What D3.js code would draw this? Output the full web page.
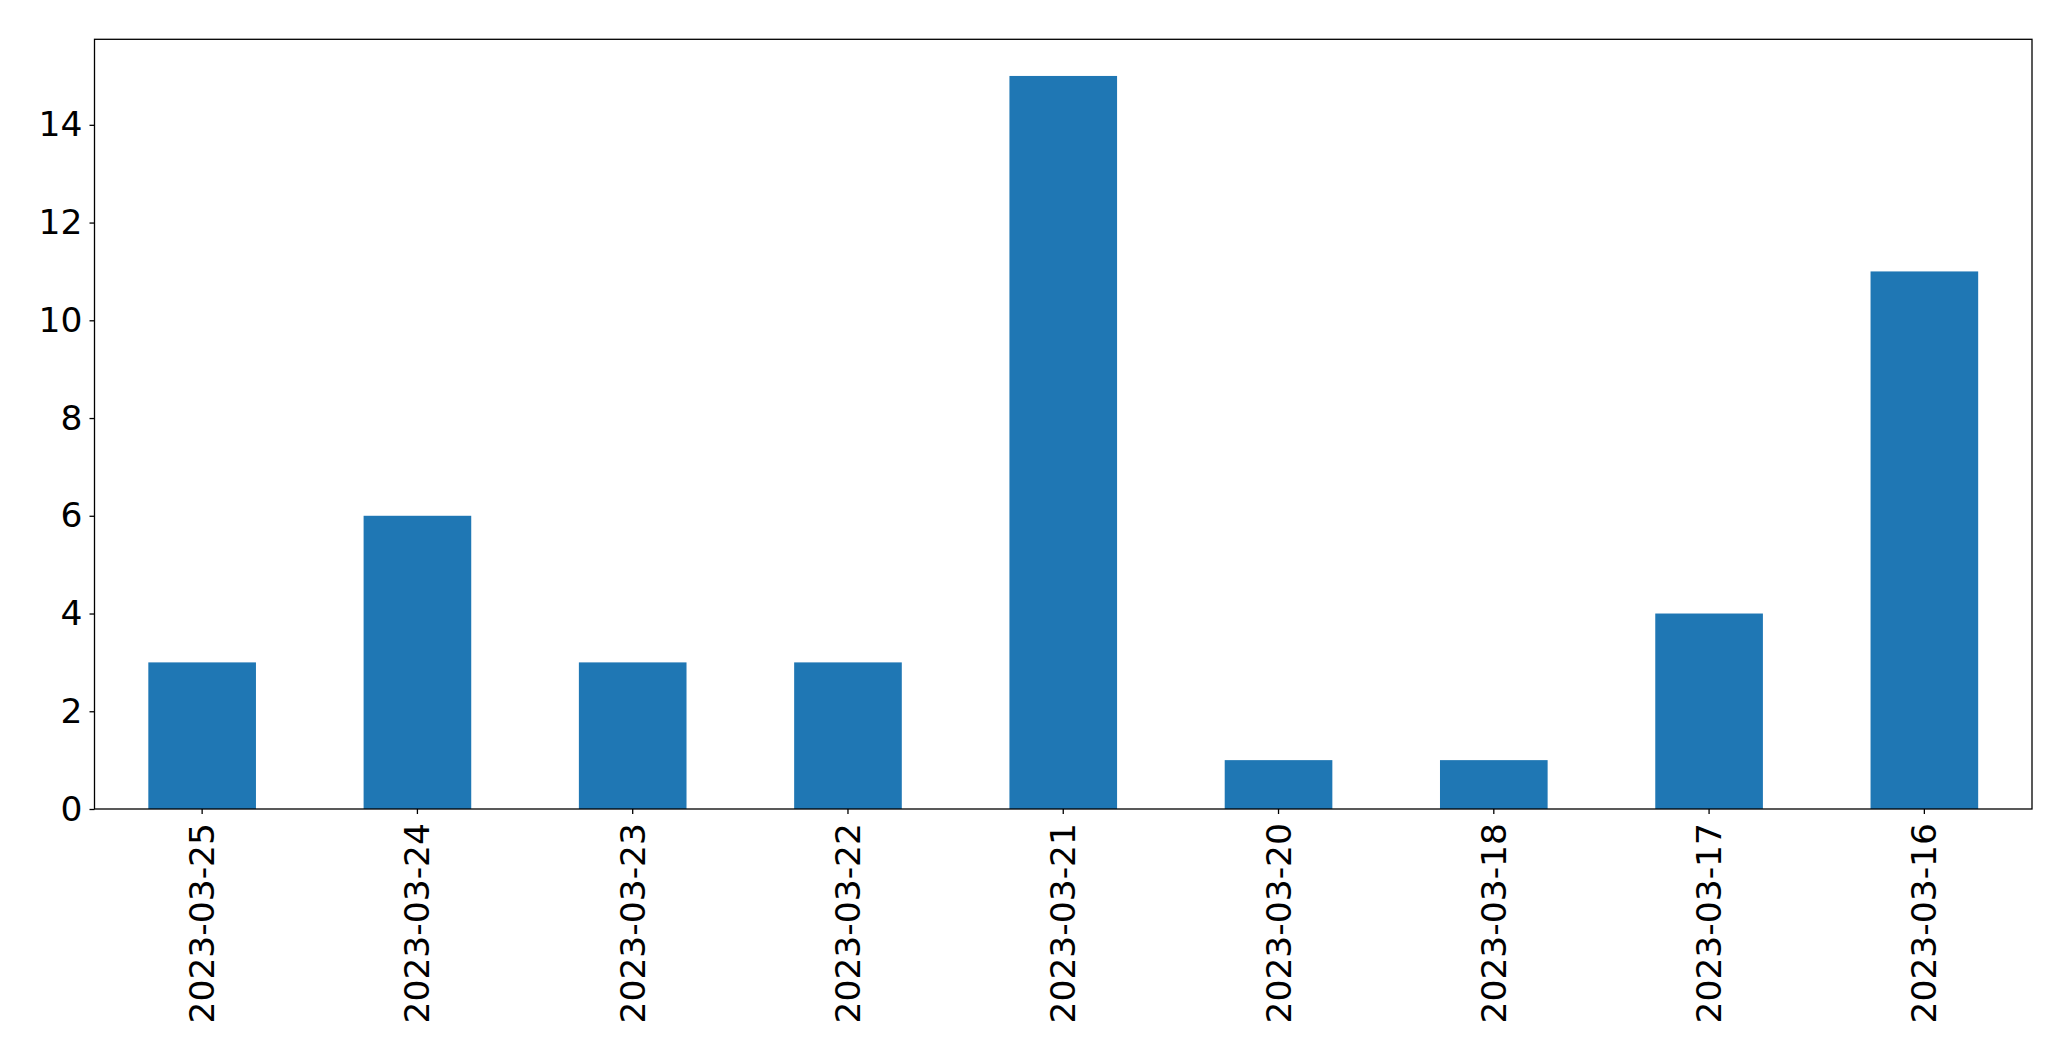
<!DOCTYPE html>
<html>
<head>
<meta charset="utf-8">
<script src="https://cdn.jsdelivr.net/npm/d3@7"></script>
<style>
  body { margin: 0; background: #fff; }
  .axis text { font-family: "DejaVu Sans", sans-serif; font-size: 34.5px; fill: #000; }
  .axis path, .axis line { stroke: #000; stroke-width: 1.3; }
</style>
</head>
<body>
<script>
// dates as shown, left to right
var dates = ["2023-03-25", "2023-03-24", "2023-03-23", "2023-03-22", "2023-03-21",
             "2023-03-20", "2023-03-18", "2023-03-17", "2023-03-16"];
var counts = [3, 6, 3, 3, 15, 1, 1, 4, 11];
var yTicks = [0, 2, 4, 6, 8, 10, 12, 14];

var margin = {top: 39.3, right: 39, bottom: 252, left: 94.5},
    width = 2071 - margin.left - margin.right,
    height = 1061 - margin.top - margin.bottom;

var svg = d3.select("body").append("svg")
  .attr("width", 2071)
  .attr("height", 1061)
  .append("g")
  .attr("transform", "translate(" + margin.left + "," + margin.top + ")");

var x = d3.scaleBand().domain(dates).range([0, width]).paddingInner(0.5).paddingOuter(0.25);

var y = d3.scaleLinear()
  .domain([0, d3.max(counts) * 1.05])
  .range([height, 0]);

svg.selectAll(".bar")
  .data(counts)
  .enter()
  .append("rect")
  .attr("class", "bar")
  .attr("x", function(d, i) { return x(dates[i]); })
  .attr("width", x.bandwidth())
  .attr("y", function(d) { return y(d); })
  .attr("height", function(d) { return height - y(d); })
  .attr("fill", "#1f77b4");

// y axis
svg.append("g")
  .attr("class", "axis")
  .call(d3.axisLeft(y).tickValues(yTicks).tickSize(5).tickPadding(7))
  .call(function(g) { g.select(".domain").remove(); });

// x axis, labels turned upright
svg.append("g")
  .attr("class", "axis")
  .attr("transform", "translate(0," + height + ")")
  .call(d3.axisBottom(x).tickSize(5).tickPadding(7))
  .call(function(g) { g.select(".domain").remove(); })
  .selectAll("text")
  .attr("transform", "rotate(-90)")
  .attr("x", -14)
  .attr("y", 0)
  .attr("dy", "0.35em")
  .style("text-anchor", "end");

// frame
svg.append("rect")
  .attr("width", width)
  .attr("height", height)
  .attr("fill", "none")
  .attr("stroke", "#000")
  .attr("stroke-width", 1.3);
</script>
</body>
</html>
